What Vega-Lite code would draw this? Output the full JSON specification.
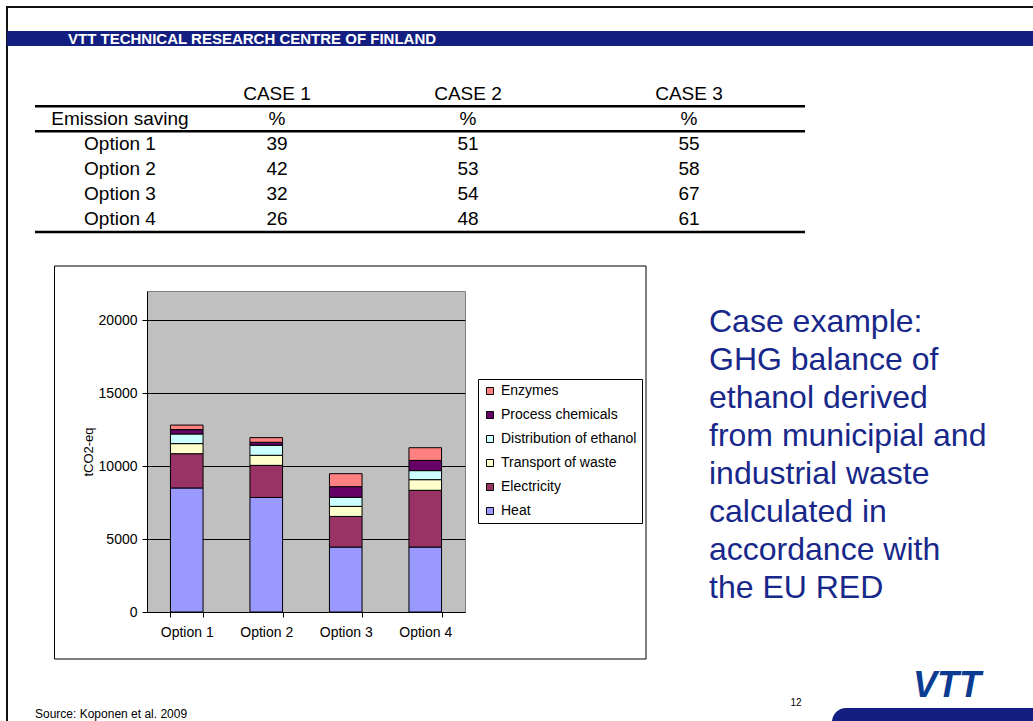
{
  "$schema": "https://vega.github.io/schema/vega-lite/v6.json",
  "width": 318,
  "height": 321,
  "autosize": {"type": "none"},
  "padding": {"left": 147, "top": 291, "right": 568, "bottom": 109},
  "background": "white",
  "config": {"font": "Liberation Sans", "view": {"stroke": null}},
  "view": {"fill": "#C0C0C0", "stroke": "#808080"},
  "datasets": {
    "emissions": [
      {"option": "Option 1", "component": "Heat", "value": 8500},
      {"option": "Option 1", "component": "Electricity", "value": 2350},
      {"option": "Option 1", "component": "Transport of waste", "value": 690},
      {"option": "Option 1", "component": "Distribution of ethanol", "value": 660},
      {"option": "Option 1", "component": "Process chemicals", "value": 300},
      {"option": "Option 1", "component": "Enzymes", "value": 310},
      {"option": "Option 2", "component": "Heat", "value": 7850},
      {"option": "Option 2", "component": "Electricity", "value": 2200},
      {"option": "Option 2", "component": "Transport of waste", "value": 690},
      {"option": "Option 2", "component": "Distribution of ethanol", "value": 690},
      {"option": "Option 2", "component": "Process chemicals", "value": 200},
      {"option": "Option 2", "component": "Enzymes", "value": 320},
      {"option": "Option 3", "component": "Heat", "value": 4450},
      {"option": "Option 3", "component": "Electricity", "value": 2100},
      {"option": "Option 3", "component": "Transport of waste", "value": 690},
      {"option": "Option 3", "component": "Distribution of ethanol", "value": 620},
      {"option": "Option 3", "component": "Process chemicals", "value": 730},
      {"option": "Option 3", "component": "Enzymes", "value": 890},
      {"option": "Option 4", "component": "Heat", "value": 4450},
      {"option": "Option 4", "component": "Electricity", "value": 3890},
      {"option": "Option 4", "component": "Transport of waste", "value": 730},
      {"option": "Option 4", "component": "Distribution of ethanol", "value": 620},
      {"option": "Option 4", "component": "Process chemicals", "value": 700},
      {"option": "Option 4", "component": "Enzymes", "value": 870}
    ],
    "series": [
      {"component": "Heat", "seriesOrder": 1},
      {"component": "Electricity", "seriesOrder": 2},
      {"component": "Transport of waste", "seriesOrder": 3},
      {"component": "Distribution of ethanol", "seriesOrder": 4},
      {"component": "Process chemicals", "seriesOrder": 5},
      {"component": "Enzymes", "seriesOrder": 6}
    ],
    "table": [
      {"row": "header", "label": "", "c1": "CASE 1", "c2": "CASE 2", "c3": "CASE 3"},
      {"row": "Emission saving", "label": "Emission saving", "c1": "%", "c2": "%", "c3": "%"},
      {"row": "Option 1", "label": "Option 1", "c1": "39", "c2": "51", "c3": "55"},
      {"row": "Option 2", "label": "Option 2", "c1": "42", "c2": "53", "c3": "58"},
      {"row": "Option 3", "label": "Option 3", "c1": "32", "c2": "54", "c3": "67"},
      {"row": "Option 4", "label": "Option 4", "c1": "26", "c2": "48", "c3": "61"}
    ],
    "tableLines": [{"row": "header"}, {"row": "Emission saving"}, {"row": "Option 4"}],
    "note": [
      {"line": "Case example:"},
      {"line": "GHG balance of"},
      {"line": "ethanol derived"},
      {"line": "from municipial and"},
      {"line": "industrial waste"},
      {"line": "calculated in"},
      {"line": "accordance with"},
      {"line": "the EU RED"}
    ]
  },
  "resolve": {"scale": {"x": "independent", "y": "independent"}},
  "layer": [
    {
      "data": {"values": [{"part": "slide"}]},
      "mark": {"type": "rect", "filled": false, "stroke": "#111111", "strokeWidth": 2},
      "encoding": {
        "x": {"field": "part", "type": "nominal", "axis": null, "scale": {"range": [-140, 960], "paddingInner": 0, "paddingOuter": 0}},
        "y": {"field": "part", "type": "nominal", "axis": null, "scale": {"range": [-284, 520], "paddingInner": 0, "paddingOuter": 0}}
      }
    },
    {
      "data": {"values": [{"org": "VTT TECHNICAL RESEARCH CENTRE OF FINLAND"}]},
      "mark": {"type": "rect", "fill": "#131F80"},
      "encoding": {
        "x": {"field": "org", "type": "nominal", "axis": null, "scale": {"range": [-140, 960], "paddingInner": 0, "paddingOuter": 0}},
        "y": {"field": "org", "type": "nominal", "axis": null, "scale": {"range": [-260, -245], "paddingInner": 0, "paddingOuter": 0}}
      }
    },
    {
      "data": {"values": [{"org": "VTT TECHNICAL RESEARCH CENTRE OF FINLAND"}]},
      "mark": {"type": "text", "align": "left", "baseline": "middle", "color": "white", "fontWeight": "bold", "fontSize": 15},
      "encoding": {
        "text": {"field": "org"},
        "x": {"field": "org", "type": "nominal", "axis": null, "scale": {"type": "point", "range": [-79, -79]}},
        "y": {"field": "org", "type": "nominal", "axis": null, "scale": {"type": "point", "range": [-252, -252]}}
      }
    },
    {
      "data": {"name": "table"},
      "resolve": {"scale": {"x": "independent", "y": "shared"}},
      "layer": [
        {
          "mark": {"type": "text", "font": "Liberation Sans Narrow, Liberation Sans", "fontSize": 19, "color": "black", "baseline": "middle"},
          "encoding": {
            "text": {"field": "label"},
            "y": {"field": "row", "type": "nominal", "sort": null, "axis": null, "scale": {"type": "band", "domain": ["header", "Emission saving", "Option 1", "Option 2", "Option 3", "Option 4"], "range": [-210, -59], "paddingInner": 0, "paddingOuter": 0}},
            "x": {"field": "row", "type": "nominal", "axis": null, "scale": {"type": "point", "range": [-27, -27]}}
          }
        },
        {
          "mark": {"type": "text", "font": "Liberation Sans Narrow, Liberation Sans", "fontSize": 19, "color": "black", "baseline": "middle"},
          "encoding": {
            "text": {"field": "c1"},
            "y": {"field": "row", "type": "nominal", "sort": null, "axis": null},
            "x": {"field": "row", "type": "nominal", "axis": null, "scale": {"type": "point", "range": [130, 130]}}
          }
        },
        {
          "mark": {"type": "text", "font": "Liberation Sans Narrow, Liberation Sans", "fontSize": 19, "color": "black", "baseline": "middle"},
          "encoding": {
            "text": {"field": "c2"},
            "y": {"field": "row", "type": "nominal", "sort": null, "axis": null},
            "x": {"field": "row", "type": "nominal", "axis": null, "scale": {"type": "point", "range": [321, 321]}}
          }
        },
        {
          "mark": {"type": "text", "font": "Liberation Sans Narrow, Liberation Sans", "fontSize": 19, "color": "black", "baseline": "middle"},
          "encoding": {
            "text": {"field": "c3"},
            "y": {"field": "row", "type": "nominal", "sort": null, "axis": null},
            "x": {"field": "row", "type": "nominal", "axis": null, "scale": {"type": "point", "range": [542, 542]}}
          }
        },
        {
          "data": {"name": "tableLines"},
          "mark": {"type": "rule", "strokeWidth": 2.5, "color": "black"},
          "encoding": {
            "y": {"field": "row", "type": "nominal", "sort": null, "axis": null, "bandPosition": 1},
            "x": {"datum": 0, "type": "quantitative", "axis": null, "scale": {"domain": [0, 1], "range": [-112, 658]}},
            "x2": {"datum": 1}
          }
        }
      ]
    },
    {
      "data": {"values": [{"part": "chart"}]},
      "mark": {"type": "rect", "filled": false, "stroke": "black", "strokeWidth": 1},
      "encoding": {
        "x": {"field": "part", "type": "nominal", "axis": null, "scale": {"range": [-92.5, 499], "paddingInner": 0, "paddingOuter": 0}},
        "y": {"field": "part", "type": "nominal", "axis": null, "scale": {"range": [-25, 368], "paddingInner": 0, "paddingOuter": 0}}
      }
    },
    {
      "data": {"name": "emissions"},
      "transform": [
        {"lookup": "component", "from": {"data": {"name": "series"}, "key": "component", "fields": ["seriesOrder"]}}
      ],
      "mark": {"type": "bar", "stroke": "black", "strokeWidth": 1},
      "encoding": {
        "x": {
          "field": "option", "type": "nominal", "sort": null,
          "scale": {"paddingInner": 0.59, "paddingOuter": 0.295},
          "axis": {"orient": "bottom", "title": null, "labelAngle": 0, "tickBand": "extent", "tickSize": 5, "tickColor": "black", "domainColor": "black", "labelFontSize": 14, "labelColor": "black", "labelPadding": 8, "grid": false}
        },
        "y": {
          "field": "value", "type": "quantitative", "stack": "zero",
          "scale": {"domain": [0, 22000], "nice": false},
          "axis": {"orient": "left", "values": [0, 5000, 10000, 15000, 20000], "format": "d", "tickSize": 5, "tickColor": "black", "domainColor": "black", "labelFontSize": 14, "labelColor": "black", "labelPadding": 5, "grid": true, "gridColor": "black", "gridOpacity": 1, "title": "tCO2-eq", "titleFontSize": 13, "titleFontWeight": "normal", "titleColor": "black", "titlePadding": 3}
        },
        "order": {"field": "seriesOrder", "type": "quantitative", "sort": "ascending"},
        "color": {
          "field": "component", "type": "nominal",
          "sort": ["Enzymes", "Process chemicals", "Distribution of ethanol", "Transport of waste", "Electricity", "Heat"],
          "scale": {"domain": ["Enzymes", "Process chemicals", "Distribution of ethanol", "Transport of waste", "Electricity", "Heat"], "range": ["#FF8080", "#660066", "#CCFFFF", "#FFFFCC", "#993366", "#9999FF"]},
          "legend": {"orient": "none", "legendX": 331, "legendY": 88, "title": null, "strokeColor": "black", "fillColor": "white", "padding": 5, "symbolType": "square", "symbolSize": 49, "symbolStrokeColor": "black", "symbolStrokeWidth": 1, "labelFontSize": 14, "labelColor": "black", "rowPadding": 10, "labelOffset": 4}
        }
      }
    },
    {
      "data": {"name": "note"},
      "mark": {"type": "text", "align": "left", "baseline": "middle", "fontSize": 32, "color": "#17288A"},
      "encoding": {
        "text": {"field": "line"},
        "y": {"field": "line", "type": "nominal", "sort": null, "axis": null, "scale": {"type": "point", "range": [31, 297], "padding": 0}},
        "x": {"field": "line", "type": "nominal", "axis": null, "scale": {"type": "point", "range": [562, 562]}}
      }
    },
    {
      "data": {"values": [{"source": "Source: Koponen et al. 2009"}]},
      "mark": {"type": "text", "align": "left", "baseline": "middle", "fontSize": 12, "font": "Liberation Sans Narrow, Liberation Sans", "color": "black"},
      "encoding": {
        "text": {"field": "source"},
        "x": {"field": "source", "type": "nominal", "axis": null, "scale": {"type": "point", "range": [-112, -112]}},
        "y": {"field": "source", "type": "nominal", "axis": null, "scale": {"type": "point", "range": [423, 423]}}
      }
    },
    {
      "data": {"values": [{"page": "12"}]},
      "mark": {"type": "text", "align": "center", "baseline": "middle", "fontSize": 10, "color": "black"},
      "encoding": {
        "text": {"field": "page"},
        "x": {"field": "page", "type": "nominal", "axis": null, "scale": {"type": "point", "range": [649, 649]}},
        "y": {"field": "page", "type": "nominal", "axis": null, "scale": {"type": "point", "range": [412, 412]}}
      }
    },
    {
      "data": {"values": [{"logo": "VTT"}]},
      "mark": {"type": "text", "align": "center", "baseline": "middle", "fontSize": 36, "fontWeight": "bold", "fontStyle": "italic", "color": "#0B3C91"},
      "encoding": {
        "text": {"field": "logo"},
        "x": {"field": "logo", "type": "nominal", "axis": null, "scale": {"type": "point", "range": [800, 800]}},
        "y": {"field": "logo", "type": "nominal", "axis": null, "scale": {"type": "point", "range": [395, 395]}}
      }
    },
    {
      "data": {"values": [{"bar": "footer"}]},
      "mark": {"type": "rect", "fill": "#131F80", "cornerRadius": 14},
      "encoding": {
        "x": {"field": "bar", "type": "nominal", "axis": null, "scale": {"range": [685, 953], "paddingInner": 0, "paddingOuter": 0}},
        "y": {"field": "bar", "type": "nominal", "axis": null, "scale": {"range": [417, 469], "paddingInner": 0, "paddingOuter": 0}}
      }
    }
  ]
}
